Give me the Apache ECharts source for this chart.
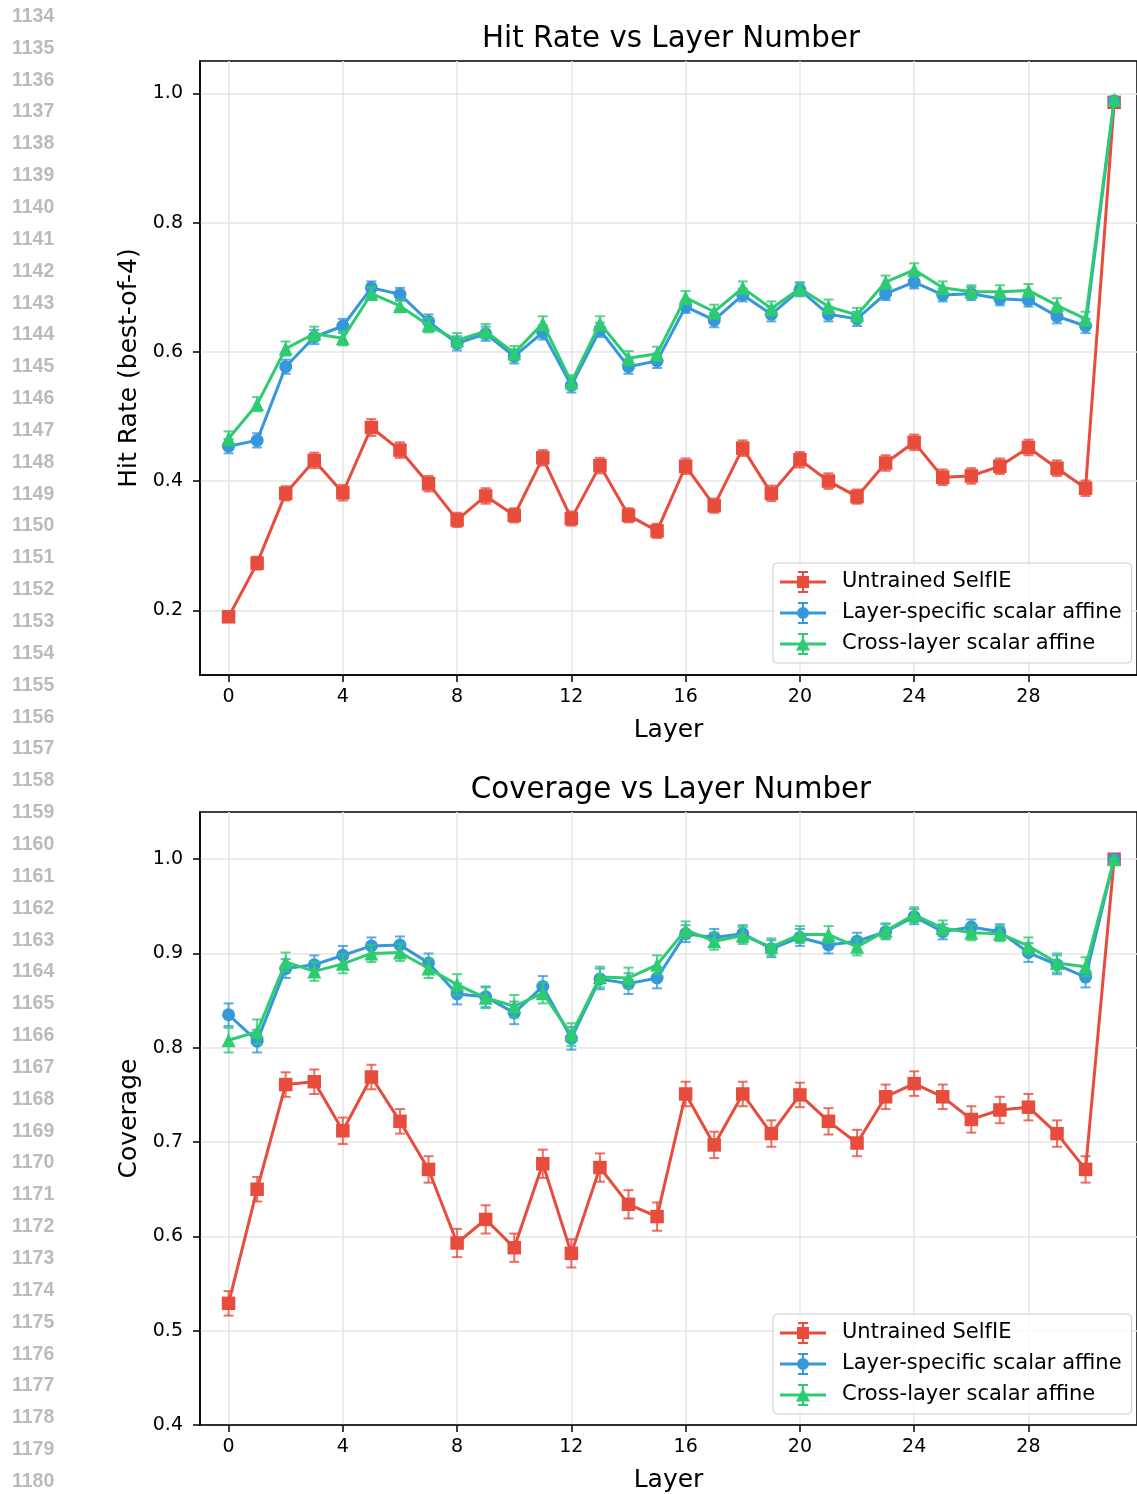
<!DOCTYPE html>
<html>
<head>
<meta charset="utf-8">
<title>Hit Rate and Coverage vs Layer Number</title>
<script src="https://cdn.jsdelivr.net/npm/echarts@6/dist/echarts.min.js"></script>
<style>
  html, body { margin: 0; padding: 0; background: #fff; }
  #chart { width: 1137px; height: 1494px; }
</style>
</head>
<body>
<div id="chart"></div>
<script>
// ---- data -------------------------------------------------------------
const layers = [0, 1, 2, 3, 4, 5, 6, 7, 8, 9, 10, 11, 12, 13, 14, 15,
                16, 17, 18, 19, 20, 21, 22, 23, 24, 25, 26, 27, 28, 29, 30, 31];

const seriesNames = ['Untrained SelfIE', 'Layer-specific scalar affine', 'Cross-layer scalar affine'];

// Hit rate (best-of-4) per layer
const hitUntrained = [0.190, 0.273, 0.381, 0.432, 0.382, 0.483, 0.448, 0.396, 0.340, 0.377, 0.347, 0.436,
                      0.342, 0.424, 0.347, 0.323, 0.423, 0.362, 0.451, 0.381, 0.433, 0.400, 0.376, 0.428,
                      0.460, 0.406, 0.408, 0.423, 0.452, 0.420, 0.389, 0.986];
const hitLayerSpecific = [0.454, 0.463, 0.577, 0.623, 0.640, 0.699, 0.689, 0.647, 0.613, 0.628, 0.593, 0.630,
                          0.548, 0.634, 0.577, 0.586, 0.670, 0.649, 0.688, 0.658, 0.696, 0.658, 0.651, 0.690,
                          0.708, 0.688, 0.690, 0.682, 0.680, 0.655, 0.640, 0.988];
const hitCrossLayer = [0.466, 0.519, 0.605, 0.628, 0.621, 0.690, 0.671, 0.641, 0.618, 0.632, 0.598, 0.644,
                       0.553, 0.644, 0.590, 0.597, 0.684, 0.662, 0.699, 0.667, 0.698, 0.670, 0.657, 0.708,
                       0.727, 0.699, 0.693, 0.693, 0.695, 0.672, 0.651, 0.990];

// Hit rate error (half-width of the error bar)
const hitUntrainedErr = [0.008, 0.010, 0.011, 0.012, 0.012, 0.013, 0.012, 0.012, 0.011, 0.012, 0.011, 0.012,
                         0.011, 0.012, 0.011, 0.011, 0.012, 0.011, 0.012, 0.012, 0.012, 0.012, 0.011, 0.012,
                         0.012, 0.012, 0.012, 0.012, 0.012, 0.012, 0.012, 0.004];
const hitLayerSpecificErr = [0.011, 0.011, 0.011, 0.011, 0.011, 0.010, 0.010, 0.011, 0.011, 0.011, 0.011, 0.011,
                             0.011, 0.011, 0.011, 0.011, 0.010, 0.011, 0.010, 0.011, 0.010, 0.011, 0.011, 0.010,
                             0.010, 0.010, 0.010, 0.010, 0.010, 0.011, 0.011, 0.003];
const hitCrossLayerErr = [0.011, 0.011, 0.011, 0.011, 0.011, 0.010, 0.010, 0.011, 0.011, 0.011, 0.011, 0.011,
                          0.011, 0.011, 0.011, 0.011, 0.010, 0.011, 0.010, 0.011, 0.010, 0.011, 0.011, 0.010,
                          0.010, 0.010, 0.010, 0.010, 0.010, 0.011, 0.011, 0.003];

// Coverage per layer
const covUntrained = [0.529, 0.650, 0.761, 0.764, 0.712, 0.769, 0.722, 0.671, 0.593, 0.618, 0.588, 0.677,
                      0.582, 0.673, 0.634, 0.621, 0.751, 0.697, 0.751, 0.709, 0.750, 0.722, 0.699, 0.748,
                      0.762, 0.748, 0.724, 0.734, 0.737, 0.709, 0.671, 1.000];
const covLayerSpecific = [0.835, 0.807, 0.884, 0.888, 0.898, 0.908, 0.909, 0.890, 0.857, 0.854, 0.837, 0.865,
                          0.810, 0.873, 0.868, 0.874, 0.921, 0.917, 0.921, 0.905, 0.917, 0.909, 0.913, 0.923,
                          0.939, 0.923, 0.928, 0.923, 0.901, 0.888, 0.875, 1.000];
const covCrossLayer = [0.808, 0.817, 0.891, 0.881, 0.889, 0.900, 0.901, 0.884, 0.867, 0.853, 0.844, 0.858,
                       0.814, 0.875, 0.874, 0.888, 0.925, 0.913, 0.919, 0.907, 0.920, 0.920, 0.907, 0.924,
                       0.941, 0.927, 0.922, 0.921, 0.908, 0.890, 0.886, 1.000];

const covUntrainedErr = [0.013, 0.013, 0.013, 0.013, 0.014, 0.013, 0.013, 0.014, 0.015, 0.015, 0.015, 0.015,
                         0.015, 0.015, 0.015, 0.015, 0.013, 0.014, 0.013, 0.014, 0.013, 0.014, 0.014, 0.013,
                         0.013, 0.013, 0.014, 0.014, 0.014, 0.014, 0.014, 0.000];
const covLayerSpecificErr = [0.012, 0.012, 0.010, 0.010, 0.010, 0.009, 0.009, 0.010, 0.011, 0.011, 0.012, 0.011,
                             0.012, 0.011, 0.011, 0.011, 0.009, 0.009, 0.009, 0.009, 0.009, 0.009, 0.009, 0.008,
                             0.008, 0.008, 0.008, 0.008, 0.010, 0.010, 0.011, 0.000];
const covCrossLayerErr = [0.013, 0.013, 0.010, 0.010, 0.010, 0.009, 0.009, 0.010, 0.011, 0.011, 0.012, 0.011,
                          0.012, 0.011, 0.011, 0.010, 0.009, 0.009, 0.009, 0.009, 0.009, 0.009, 0.009, 0.008,
                          0.008, 0.008, 0.008, 0.008, 0.009, 0.010, 0.010, 0.000];

// Axis ticks
const layerTicks = [0, 4, 8, 12, 16, 20, 24, 28];
const hitTicks = [0.2, 0.4, 0.6, 0.8, 1.0];
const covTicks = [0.4, 0.5, 0.6, 0.7, 0.8, 0.9, 1.0];

// ---- styling ----------------------------------------------------------
const FONT = 'DejaVu Sans';
const colors = ['#e74c3c', '#3498db', '#2ecc71'];
const symbols = ['rect', 'circle', 'triangle'];
const symbolSizes = [13.5, 13, 14];

// legend glyphs: line + error bar with caps + marker
const legendIcons = [
  'path://M0 10.5H46V13.5H0Z M22 1H24V23H22Z M18 1H28V3H18Z M18 21H28V23H18Z M17 6H29V18H17Z',
  'path://M0 10.5H46V13.5H0Z M22 1H24V23H22Z M18 1H28V3H18Z M18 21H28V23H18Z M17 12A6 6 0 1 1 29 12A6 6 0 1 1 17 12Z',
  'path://M0 10.5H46V13.5H0Z M22 1H24V23H22Z M18 1H28V3H18Z M18 21H28V23H18Z M23 5L30 18.5L16 18.5Z'
];

const panels = [
  { title: 'Hit Rate vs Layer Number', yName: 'Hit Rate (best-of-4)', yMin: 0.1, yMax: 1.05, yTicks: hitTicks,
    top: 61, values: [hitUntrained, hitLayerSpecific, hitCrossLayer],
    errors: [hitUntrainedErr, hitLayerSpecificErr, hitCrossLayerErr] },
  { title: 'Coverage vs Layer Number', yName: 'Coverage', yMin: 0.4, yMax: 1.05, yTicks: covTicks,
    top: 812, values: [covUntrained, covLayerSpecific, covCrossLayer],
    errors: [covUntrainedErr, covLayerSpecificErr, covCrossLayerErr] }
];

// the plot area runs to the right edge of the page; x range -1 .. 31.8
const PLOT_LEFT = 200, PLOT_HEIGHT = 614, X_MIN = -1, X_MAX = 31.8;

function errorBarItem(params, api) {
  const x = api.value(0);
  const pLo = api.coord([x, api.value(1)]);
  const pHi = api.coord([x, api.value(2)]);
  const cap = 5;
  const style = { stroke: api.visual('color'), lineWidth: 2, opacity: 0.8 };
  return {
    type: 'group',
    children: [
      { type: 'line', shape: { x1: pLo[0], y1: pLo[1], x2: pHi[0], y2: pHi[1] }, style },
      { type: 'line', shape: { x1: pLo[0] - cap, y1: pLo[1], x2: pLo[0] + cap, y2: pLo[1] }, style },
      { type: 'line', shape: { x1: pHi[0] - cap, y1: pHi[1], x2: pHi[0] + cap, y2: pHi[1] }, style }
    ]
  };
}

const grids = [], xAxes = [], yAxes = [], series = [], legends = [], graphics = [];

panels.forEach((p, gi) => {
  grids.push({
    left: PLOT_LEFT, top: p.top, right: 0, height: PLOT_HEIGHT,
    show: true, borderColor: '#000', borderWidth: 1.5, backgroundColor: 'transparent'
  });
  xAxes.push({
    gridIndex: gi, type: 'value', min: X_MIN, max: X_MAX,
    name: 'Layer', nameLocation: 'middle', nameGap: 43,
    nameTextStyle: { fontFamily: FONT, fontSize: 25, color: '#000' },
    axisLine: { show: true, onZero: false, lineStyle: { color: '#000', width: 1.5 } },
    axisTick: { show: true, length: 7, lineStyle: { color: '#000', width: 1.5 }, customValues: layerTicks },
    axisLabel: { customValues: layerTicks, fontFamily: FONT, fontSize: 19, color: '#000', margin: 13 },
    splitLine: { show: true, lineStyle: { color: '#e6e6e6', width: 1.5 } }
  });
  yAxes.push({
    gridIndex: gi, type: 'value', min: p.yMin, max: p.yMax,
    name: p.yName, nameLocation: 'middle', nameGap: 57,
    nameTextStyle: { fontFamily: FONT, fontSize: 25, color: '#000' },
    axisLine: { show: true, onZero: false, lineStyle: { color: '#000', width: 1.5 } },
    axisTick: { show: true, length: 7, lineStyle: { color: '#000', width: 1.5 }, customValues: p.yTicks },
    axisLabel: { customValues: p.yTicks, fontFamily: FONT, fontSize: 19, color: '#000', margin: 17,
                 formatter: v => v.toFixed(1) },
    splitLine: { show: true, lineStyle: { color: '#e6e6e6', width: 1.5 } }
  });

  seriesNames.forEach((name, si) => {
    const vals = p.values[si];
    const errs = p.errors[si];
    series.push({
      type: 'custom', name: name, xAxisIndex: gi, yAxisIndex: gi,
      z: 2 + si * 2, silent: true, animation: false,
      itemStyle: { color: colors[si] },
      renderItem: errorBarItem,
      encode: { x: 0, y: [1, 2] },
      data: layers.map((l, i) => [l, vals[i] - errs[i], vals[i] + errs[i]])
    });
    series.push({
      type: 'line', name: name, xAxisIndex: gi, yAxisIndex: gi,
      z: 3 + si * 2, silent: true, animation: false,
      symbol: symbols[si], symbolSize: symbolSizes[si], showSymbol: true,
      lineStyle: { color: colors[si], width: 3 },
      itemStyle: { color: colors[si], borderWidth: 0 },
      emphasis: { disabled: true },
      data: layers.map((l, i) => [l, vals[i]])
    });
  });

  legends.push({
    orient: 'vertical', left: 773, top: p.top + 502,
    itemWidth: 46, itemHeight: 22, itemGap: 9,
    padding: [8, 10, 8, 7],
    backgroundColor: 'rgba(255,255,255,0.8)', borderColor: '#cccccc', borderWidth: 1, borderRadius: 4,
    selectedMode: false,
    textStyle: { fontFamily: FONT, fontSize: 21, color: '#000', padding: [0, 0, 0, 11] },
    data: seriesNames.map((name, si) => ({
      name: name, icon: legendIcons[si],
      itemStyle: { color: colors[si], borderWidth: 0 }
    }))
  });

  graphics.push({
    type: 'text', x: 671, y: p.top - 22,
    style: { text: p.title, font: '29.3px "' + FONT + '"', fill: '#000', textAlign: 'center', textVerticalAlign: 'middle' }
  });
});

// manuscript line numbers in the left margin
const firstLineNo = 1134, lastLineNo = 1180;
for (let n = firstLineNo; n <= lastLineNo; n++) {
  graphics.push({
    type: 'text', x: 12, y: 16.5 + (n - firstLineNo) * 31.85,
    style: { text: String(n), font: 'bold 19.5px "Liberation Sans", Arial, sans-serif', fill: '#bbbbbb',
             textAlign: 'left', textVerticalAlign: 'middle' }
  });
}

const chart = echarts.init(document.getElementById('chart'), null, { renderer: 'canvas' });
chart.setOption({
  animation: false,
  backgroundColor: '#ffffff',
  grid: grids,
  xAxis: xAxes,
  yAxis: yAxes,
  legend: legends,
  series: series,
  graphic: graphics
});
</script>
</body>
</html>
